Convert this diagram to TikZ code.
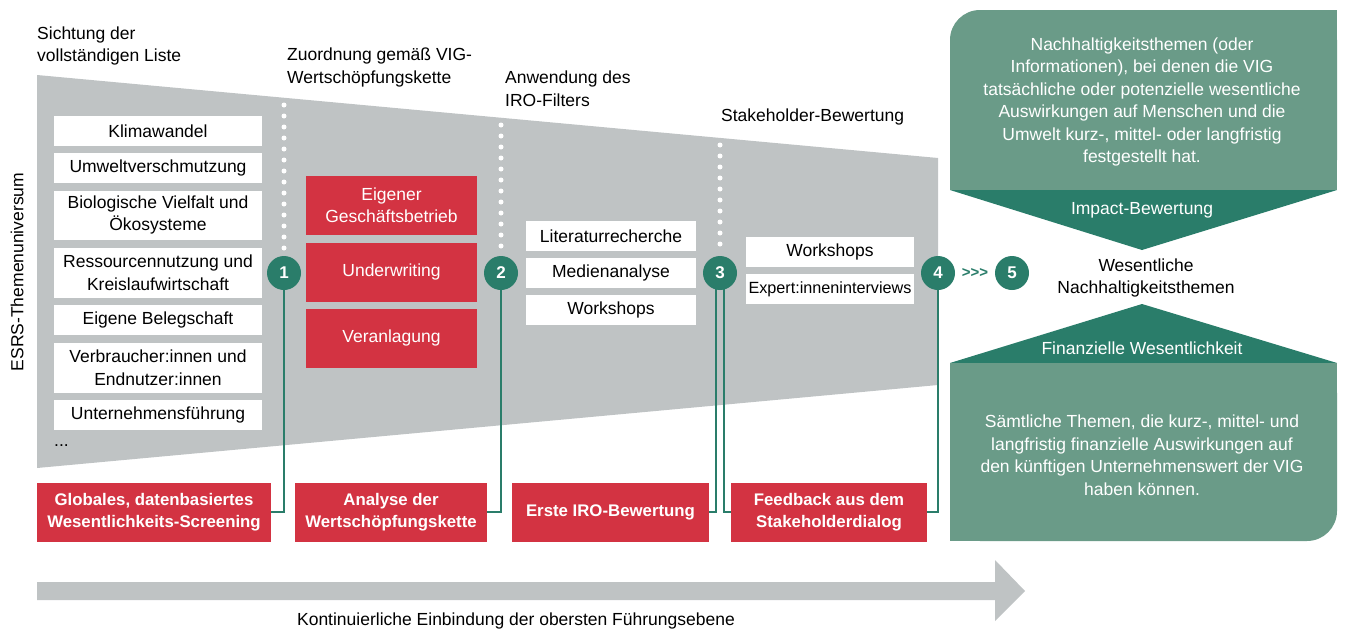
\documentclass[tikz,border=0pt]{standalone}
\usepackage{fontspec}
\setmainfont{Liberation Sans}
\definecolor{mygray}{RGB}{191,195,196}
\definecolor{myred}{RGB}{211,51,66}
\definecolor{myteal}{RGB}{42,125,106}
\definecolor{mylight}{RGB}{106,155,136}
\tikzset{
 fs/.style={font=\fontsize{17.5}{22.5}\selectfont},
 wbox/.style={fill=white, inner sep=0pt, align=center, fs, text=black},
 rbox/.style={fill=myred, inner sep=0pt, align=center, fs, text=white},
 bbox/.style={fill=myred, inner sep=0pt, align=center, font=\fontsize{16.8}{22.5}\selectfont\bfseries, text=white, minimum height=59pt},
 numc/.style={circle, fill=myteal, minimum size=34pt, inner sep=0pt, text=white, font=\fontsize{17}{17}\selectfont\bfseries},
 conn/.style={draw=myteal, line width=2pt},
 dotline/.style={draw=white, line width=5pt, line cap=round, dash pattern=on 0pt off 11pt},
 lbl/.style={inner sep=0pt, align=left, fs, anchor=west},
 wtext/.style={inner sep=0pt, align=center, fs, text=white},
}
\begin{document}
\begin{tikzpicture}[x=1pt,y=-1pt]
\useasboundingbox (0,0) rectangle (1345,632);
% gray funnel
\fill[mygray] (37,75) -- (938,158) -- (938,385) -- (37,468) -- cycle;
% bottom arrow
\fill[mygray] (37,582) -- (995,582) -- (995,560) -- (1025,591) -- (995,621) -- (995,600) -- (37,600) -- cycle;
\node[fs, inner sep=0pt] (arrlbl) at (516,621) {Kontinuierliche Einbindung der obersten Führungsebene};
% green panels
\fill[mylight, rounded corners=30pt] (950,10) rectangle (1337,190);
\fill[mylight] (980,10) rectangle (1337,190);
\fill[mylight] (950,40) rectangle (1337,190);
\fill[myteal] (950,190) -- (1337,190) -- (1142,250) -- cycle;
\fill[myteal] (950,363) -- (1142,304) -- (1337,363) -- cycle;
\fill[mylight, rounded corners=30pt] (950,363) rectangle (1337,541);
\fill[mylight] (950,363) rectangle (1307,541);
\fill[mylight] (950,363) rectangle (1337,511);
\node[wtext] (toptext) at (1142,102) {Nachhaltigkeitsthemen (oder\\Informationen), bei denen die VIG\\tatsächliche oder potenzielle wesentliche\\Auswirkungen auf Menschen und die\\Umwelt kurz-, mittel- oder langfristig\\festgestellt hat.};
\node[wtext] (impact) at (1142,210) {Impact-Bewertung};
\node[wtext] (finanz) at (1142,348) {Finanzielle Wesentlichkeit};
\node[wtext] (bottext) at (1142,455) {Sämtliche Themen, die kurz-, mittel- und\\langfristig finanzielle Auswirkungen auf\\den künftigen Unternehmenswert der VIG\\haben können.};
\node[inner sep=0pt, align=center, fs] (wes) at (1146,278) {Wesentliche\\Nachhaltigkeitsthemen};
% labels
\node[lbl] (t1) at (37,46) {Sichtung der\\vollständigen Liste};
\node[lbl] (t2) at (287,67.5) {Zuordnung gemäß VIG-\\Wertschöpfungskette};
\node[lbl] (t3) at (505,88.5) {Anwendung des\\IRO-Filters};
\node[lbl] (t4) at (721,117) {Stakeholder-Bewertung};
\node[fs, inner sep=0pt, rotate=90] (esrs) at (17,272) {ESRS-Themenuniversum};
% left list
\node[wbox, minimum width=208pt, minimum height=30pt] (l1) at (158,131) {Klimawandel};
\node[wbox, minimum width=208pt, minimum height=30pt] (l2) at (158,168) {Umweltverschmutzung};
\node[wbox, minimum width=208pt, minimum height=49pt] (l3) at (158,215) {Biologische Vielfalt und\\Ökosysteme};
\node[wbox, minimum width=208pt, minimum height=50pt] (l4) at (158,272.5) {Ressourcennutzung und\\Kreislaufwirtschaft};
\node[wbox, minimum width=208pt, minimum height=30pt] (l5) at (158,320) {Eigene Belegschaft};
\node[wbox, minimum width=208pt, minimum height=50pt] (l6) at (158,367.5) {Verbraucher:innen und\\Endnutzer:innen};
\node[wbox, minimum width=208pt, minimum height=30pt] (l7) at (158,415) {Unternehmensführung};
\node[lbl] (l8) at (54,446) {...};
% red column
\node[rbox, minimum width=171pt, minimum height=59pt] (r1) at (391.5,205) {Eigener\\Geschäftsbetrieb};
\node[rbox, minimum width=171pt, minimum height=59pt] (r2) at (391.5,272) {Underwriting};
\node[rbox, minimum width=171pt, minimum height=59pt] (r3) at (391.5,338) {Veranlagung};
% column 3
\node[wbox, minimum width=170pt, minimum height=30pt] (m1) at (611,236) {Literaturrecherche};
\node[wbox, minimum width=170pt, minimum height=30pt] (m2) at (611,273) {Medienanalyse};
\node[wbox, minimum width=170pt, minimum height=30pt] (m3) at (611,310) {Workshops};
% column 4
\node[wbox, minimum width=168pt, minimum height=30pt] (s1) at (830,252) {Workshops};
\node[wbox, minimum width=168pt, minimum height=30pt, font=\fontsize{16.2}{20}\selectfont] (s2) at (830,289) {Expert:inneninterviews};
% bottom red boxes
\node[bbox, minimum width=234pt] (b1) at (154,512) {Globales, datenbasiertes\\Wesentlichkeits-Screening};
\node[bbox, minimum width=192pt] (b2) at (391,512) {Analyse der\\Wertschöpfungskette};
\node[bbox, minimum width=197pt] (b3) at (610.5,512) {Erste IRO-Bewertung};
\node[bbox, minimum width=196pt] (b4) at (829,512) {Feedback aus dem\\Stakeholderdialog};
% dotted lines
\coordinate (d1) at (284,105);
\coordinate (d2) at (501,125);
\coordinate (d3) at (720,145);
\coordinate (e1) at (284,252);
\coordinate (e2) at (501,252);
\coordinate (e3) at (720,252);
\draw[dotline] (d1) -- (e1);
\draw[dotline] (d2) -- (e2);
\draw[dotline] (d3) -- (e3);
% connectors
\coordinate (c1p) at (284,273);
\coordinate (c2p) at (501,273);
\coordinate (c3l) at (716,273);
\coordinate (c3r) at (724,273);
\coordinate (c4p) at (938,273);
\draw[conn] (c1p) |- (b1.east);
\draw[conn] (c2p) |- (b2.east);
\draw[conn] (c3l) |- (b3.east);
\draw[conn] (c3r) |- (b4.west);
\draw[conn] (c4p) |- (b4.east);
% circles
\node[numc] (n1) at (284,273) {1};
\node[numc] (n2) at (501,273) {2};
\node[numc] (n3) at (720,273) {3};
\node[numc] (n4) at (938,273) {4};
\node[numc] (n5) at (1012,273) {5};
\node[inner sep=0pt, text=myteal, font=\fontsize{15}{15}\selectfont\bfseries] (gt) at (975,273) {>{}>{}>};
\end{tikzpicture}
\end{document}
